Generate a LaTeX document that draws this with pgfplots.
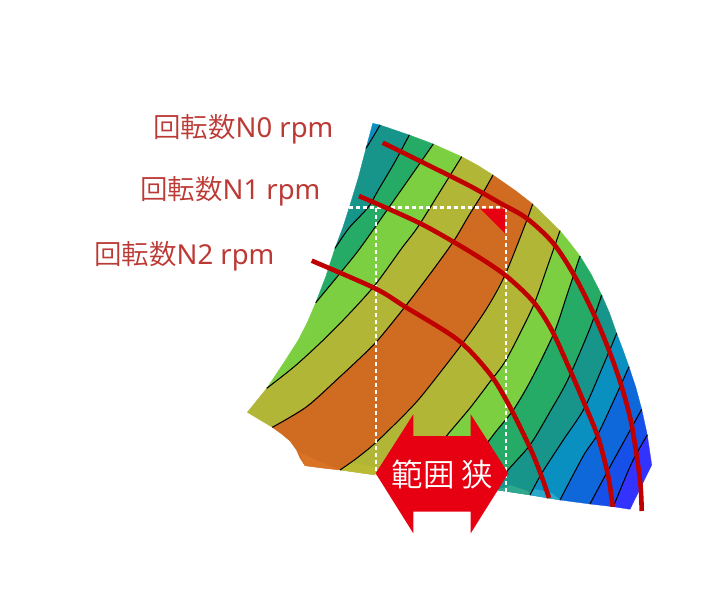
\documentclass[border=0pt]{standalone}
\usepackage{pgfplots}
\pgfplotsset{compat=1.18}
\usepackage{fontspec}
\setmainfont{Noto Sans CJK JP DemiLight}
\newfontfamily\lat{Noto Sans}
\definecolor{cB1}{HTML}{0A90C0}
\definecolor{cTe}{HTML}{17958A}
\definecolor{cGr}{HTML}{25AB66}
\definecolor{cLi}{HTML}{7BCF40}
\definecolor{cOl}{HTML}{B2B637}
\definecolor{cOr}{HTML}{CF6C21}
\definecolor{cB2}{HTML}{0F68DA}
\definecolor{cB3}{HTML}{1650E8}
\definecolor{cVi}{HTML}{3333FF}
\definecolor{cRed}{HTML}{C00000}
\definecolor{cArr}{HTML}{E60012}
\definecolor{cLab}{HTML}{BC3A36}
\definecolor{wOr}{HTML}{DB7324}
\definecolor{wOl}{HTML}{BBBB33}
\definecolor{wTe}{HTML}{2FA88E}
\definecolor{wCy}{HTML}{29A8C8}
\begin{document}
\begin{tikzpicture}
\begin{axis}[
  scale only axis, width=706pt, height=594pt,
  xmin=0, xmax=706, ymin=0, ymax=594, y dir=reverse,
  hide axis, clip=false,
  band/.style={fill=#1, draw=#1, line width=0.3pt},
  ctr/.style={draw=black, line width=1.05pt, smooth, tension=0.5},
  rl/.style={draw=cRed, line width=4.6pt, smooth, tension=0.5},
  dash/.style={draw=white, line width=2.4pt, dash pattern=on 4pt off 3pt},
]
\path (axis cs:0,0) rectangle (axis cs:706,594);
% bands
\addplot[band=cB1] coordinates {(372.7,123.3)(380,125)(373,137)(366,148.3)} -- cycle;
\addplot[band=cTe] coordinates {(380,125)(409.3,135)(395,161.7)(378.3,190)(368,207.5)(349,228)(335,248.3)(343,227)(350,205)(358.5,177)(366,148.3)(373,137)} -- cycle;
\addplot[band=cGr] coordinates {(409.3,135)(433.3,144)(411,176)(388.3,208.3)(360,248.3)(340,273.3)(315.7,302.7)(326,276)(335,248.3)(349,228)(368,207.5)(378.3,190)(395,161.7)} -- cycle;
\addplot[band=cLi] coordinates {(433.3,144)(461.7,156.7)(441,190)(418,226.7)(401.7,248.3)(375,285)(349,314)(323.3,340)(295,366)(266.7,388.3)(283,364)(298.3,340)(307.5,322)(315.7,302.7)(340,273.3)(360,248.3)(388.3,208.3)(411,176)} -- cycle;
\addplot[band=cOl] coordinates {(461.7,156.7)(478,165.5)(493,175)(482.7,193.3)(468,217)(453.3,241.7)(430,274)(405,306.7)(378,340)(359,359)(340,376.7)(306.7,406.7)(272.3,427.3)(247.3,412.3)(266.7,388.3)(295,366)(323.3,340)(349,314)(375,285)(401.7,248.3)(418,226.7)(441,190)} -- cycle;
\addplot[band=cOr] coordinates {(493,175)(516,191)(532.7,204)(525,225)(505,275)(487,308)(465,340)(439,374)(416.7,401.7)(395,424)(375,443.3)(357,458)(340,470)(322,468)(305,465.7)(300,458)(296.5,450)(290,441)(281,433.5)(272.3,427.3)(306.7,406.7)(340,376.7)(359,359)(378,340)(405,306.7)(430,274)(453.3,241.7)(468,217)(482.7,193.3)} -- cycle;
\addplot[band=cOl] coordinates {(532.7,204)(546,217)(560,230.7)(548,265)(535,301.7)(521.7,330)(505,361.7)(490,381.7)(470,408)(446.7,435.7)(430,458)(412,480)(375,475)(340,470)(357,458)(375,443.3)(395,424)(416.7,401.7)(439,374)(465,340)(487,308)(505,275)(525,225)} -- cycle;
\addplot[band=cLi] coordinates {(560,230.7)(570,243)(580,256)(567,295)(554,333)(531,380)(513.3,410)(495,432.7)(470,466)(455,488)(412,480)(430,458)(446.7,435.7)(470,408)(490,381.7)(505,361.7)(521.7,330)(535,301.7)(548,265)} -- cycle;
\addplot[band=cGr] coordinates {(580,256)(591,274)(601.7,295)(589.3,330)(567.7,380)(550,411.7)(530,445)(506.7,471.7)(496.7,490)(455,488)(470,466)(495,432.7)(513.3,410)(531,380)(554,333)(567,295)} -- cycle;
\addplot[band=cTe] coordinates {(601.7,295)(609.5,313)(616.7,333.3)(603,366)(584.3,408.3)(563.3,440)(541.7,473.3)(530,495)(496.7,490)(506.7,471.7)(530,445)(550,411.7)(567.7,380)(589.3,330)} -- cycle;
\addplot[band=cB1] coordinates {(616.7,333.3)(623,350)(629,366.7)(614,400)(598.3,433.3)(585,453)(572,477)(560,500)(530,495)(541.7,473.3)(563.3,440)(584.3,408.3)(603,366)} -- cycle;
\addplot[band=cB2] coordinates {(629,366.7)(636,388)(641.7,409.3)(610,466.7)(590,504)(560,500)(572,477)(585,453)(598.3,433.3)(614,400)} -- cycle;
\addplot[band=cB3] coordinates {(641.7,409.3)(647.3,435)(631.7,463)(613.3,506.7)(590,504)(610,466.7)} -- cycle;
\addplot[band=cVi] coordinates {(647.3,435)(651.7,465)(630,509.3)(613.3,506.7)(631.7,463)} -- cycle;
% lighter wedges along the lower edge
\addplot[fill=wOr, draw=none] coordinates {(299,452)(305,465.7)(340,470)(318,461)} -- cycle;
\addplot[fill=wOl, draw=none] coordinates {(340,470)(375,475)(375,467)(352,463)} -- cycle;
\addplot[fill=wTe, draw=none] coordinates {(497,490)(530,495)(528,491)(510,485)} -- cycle;
\addplot[fill=wCy, draw=none] coordinates {(530,495)(560,500)(552,493)(535,489)} -- cycle;
% contours
\addplot[ctr] coordinates {(380,125)(373,137)(366,148.3)};
\addplot[ctr] coordinates {(409.3,135)(395,161.7)(378.3,190)(368,207.5)(349,228)(335,248.3)};
\addplot[ctr] coordinates {(433.3,144)(411,176)(388.3,208.3)(360,248.3)(340,273.3)(315.7,302.7)};
\addplot[ctr] coordinates {(461.7,156.7)(441,190)(418,226.7)(401.7,248.3)(375,285)(349,314)(323.3,340)(295,366)(266.7,388.3)};
\addplot[ctr] coordinates {(493,175)(482.7,193.3)(468,217)(453.3,241.7)(430,274)(405,306.7)(378,340)(359,359)(340,376.7)(306.7,406.7)(272.3,427.3)};
\addplot[ctr] coordinates {(532.7,204)(525,225)(505,275)(487,308)(465,340)(439,374)(416.7,401.7)(395,424)(375,443.3)(357,458)(340,470)};
\addplot[ctr] coordinates {(560,230.7)(548,265)(535,301.7)(521.7,330)(505,361.7)(490,381.7)(470,408)(446.7,435.7)(430,458)};
\addplot[ctr] coordinates {(580,256)(567,295)(554,333)(531,380)(513.3,410)(495,432.7)(470,466)};
\addplot[ctr] coordinates {(601.7,295)(589.3,330)(567.7,380)(550,411.7)(530,445)(506.7,471.7)(496.7,490)};
\addplot[ctr] coordinates {(616.7,333.3)(603,366)(584.3,408.3)(563.3,440)(541.7,473.3)(530,495)};
\addplot[ctr] coordinates {(629,366.7)(614,400)(598.3,433.3)(585,453)(572,477)(560,500)};
\addplot[ctr] coordinates {(641.7,409.3)(610,466.7)(590,504)};
\addplot[ctr] coordinates {(647.3,435)(631.7,463)(613.3,506.7)};
% dashed rectangle
\addplot[dash] coordinates {(349,207.5)(506,207.5)};
\addplot[dash] coordinates {(376,207.5)(376,475)};
\addplot[dash] coordinates {(506,207.5)(506,492)};
% triangle
\addplot[fill=cArr, draw=none] coordinates {(480,208.5)(505,208.5)(505,233.3)} -- cycle;
% speed lines
\addplot[rl] coordinates {(382.7,142.7)(430,166)(470,186)(500,203)(526.7,218.3)(553.3,243.3)(575,276.7)(595,316.7)(610,353)(621.7,386.7)(631.7,425)(640,480)(641.7,511)};
\addplot[rl] coordinates {(359,196)(420,223.3)(470,251.7)(505,275)(533.3,301.7)(551.7,330)(570,370)(585,405)(598.3,438)(608.3,476.7)(612.7,506.7)};
\addplot[rl] coordinates {(311.7,260.7)(375,288.3)(405,306.7)(458,340)(490,374)(510,407)(531,450)(541.7,476.7)(549,498)};
% arrow
\addplot[fill=cArr, draw=none] coordinates {(375.7,473.3)(413.3,414.3)(413.3,436)(470.7,436)(470.7,414.3)(508.3,473.3)(470.7,533.3)(470.7,511.7)(413.3,511.7)(413.3,533.3)} -- cycle;
\node[text=white, font=\fontsize{31.5}{31.5}\selectfont, anchor=center, inner sep=0pt] at (axis cs:442.5,474) {範囲 狭};
\node[text=cLab, font=\fontsize{27.5}{27.5}\selectfont, anchor=base west, inner sep=0pt] at (axis cs:153,137) {回転数{\lat N0 rpm}};
\node[text=cLab, font=\fontsize{27.5}{27.5}\selectfont, anchor=base west, inner sep=0pt] at (axis cs:140,199) {回転数{\lat N1 rpm}};
\node[text=cLab, font=\fontsize{27.5}{27.5}\selectfont, anchor=base west, inner sep=0pt] at (axis cs:94,264) {回転数{\lat N2 rpm}};
\end{axis}
\end{tikzpicture}
\end{document}
